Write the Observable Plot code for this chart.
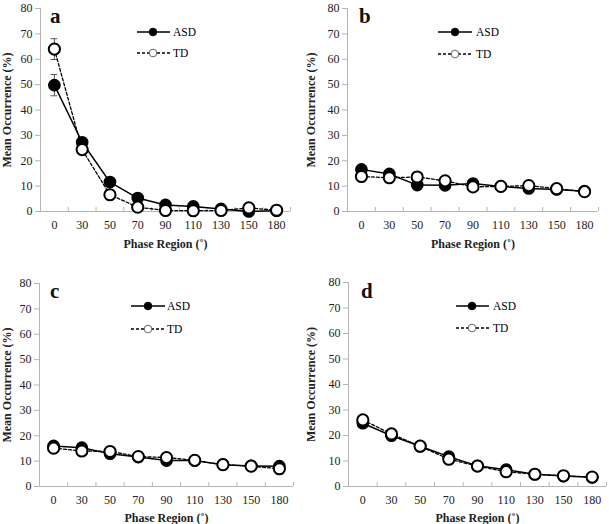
<!DOCTYPE html>
<html><head><meta charset="utf-8">
<script src="https://cdn.jsdelivr.net/npm/d3@7"></script>
<script src="https://cdn.jsdelivr.net/npm/@observablehq/plot@0.6"></script>
<style>
body{margin:0;background:#fff}
#root{position:relative;width:609px;height:524px;font-family:'Liberation Serif',serif;color:#111}
.panel{position:absolute;width:305px;height:262px}
.panel > svg{position:absolute;left:0;top:0;overflow:visible}
.panel svg text{font-family:'Liberation Serif',serif}
.letter{position:absolute;font-weight:bold;font-size:21px;line-height:1}
[aria-label$="axis label"]{font-weight:bold}
</style></head>
<body><div id="root"></div>
<script>
// ---- data ----
const phases = ["0","30","50","70","90","110","130","150","180"];
const panelLetters = ["a","b","c","d"];
const groups = ["ASD","TD"];
const asdA = [49.8, 27.3, 11.6, 5.3, 2.6, 2.0, 1.0, 0.0, 0.3];
const tdA  = [64.0, 24.4, 6.6, 1.7, 0.4, 0.3, 0.4, 1.4, 0.5];
const asdErrA = [4.2, 0, 0, 0, 0, 0, 0, 0, 0];
const tdErrA  = [4.1, 0, 0, 0, 0, 0, 0, 0, 0];
const asdB = [16.6, 14.8, 10.4, 10.3, 11.0, 9.9, 9.1, 8.7, 8.0];
const tdB  = [13.8, 13.3, 13.6, 12.1, 9.7, 9.9, 10.2, 9.0, 7.8];
const asdC = [16.0, 15.3, 12.9, 11.6, 10.2, 10.2, 8.6, 8.1, 8.0];
const tdC  = [15.1, 14.0, 13.8, 11.8, 11.4, 10.3, 8.6, 8.0, 7.0];
const asdD = [24.8, 19.9, 15.8, 11.7, 8.1, 6.6, 4.8, 4.1, 3.6];
const tdD  = [26.1, 20.6, 15.8, 10.7, 8.0, 5.8, 4.8, 4.2, 3.7];
const yTicks = [0, 10, 20, 30, 40, 50, 60, 70, 80];
const xTitle = "Phase Region (˚)";
const yTitle = "Mean Occurrence (%)";

const seriesSets = [
  [asdA, tdA, asdErrA, tdErrA],
  [asdB, tdB, null, null],
  [asdC, tdC, null, null],
  [asdD, tdD, null, null]
];

// ---- layout ----
const layout = [
  {left:0,   top:0,   mt:8,  mb:51, ml:40, mr:15, xo:36, letter:[50,6],  leg:{x1:137,x2:170,cx:153,tx:173,y:[32,53]}},
  {left:304, top:0,   mt:8,  mb:51, ml:43, mr:11, xo:36, letter:[55,6],  leg:{x1:134,x2:168,cx:151,tx:172,y:[32,54]}},
  {left:0,   top:262, mt:21, mb:38, ml:39, mr:12, xo:35, letter:[50,19], leg:{x1:131,x2:165,cx:148,tx:167,y:[44,67]}},
  {left:304, top:262, mt:20, mb:38, ml:44, mr:3,  xo:35, letter:[57,19], leg:{x1:152,x2:185,cx:168,tx:189,y:[44,66]}}
];

const root = document.getElementById("root");
const ns = "http://www.w3.org/2000/svg";
const serif = "Liberation Serif, serif";

seriesSets.forEach(([asd, td, asdErr, tdErr], p) => {
  const L = layout[p];
  const rows = (vals, errs) => vals.map((v, i) => ({i, v, e: errs ? errs[i] : 0}));
  const A = rows(asd, asdErr), T = rows(td, tdErr);
  const errRows = [...A, ...T].filter(d => d.e > 0);
  const idx = d3.range(phases.length);
  const bounds = d3.range(phases.length + 1).map(k => k - 0.5);

  const chart = Plot.plot({
    width: 305, height: 262,
    marginLeft: L.ml, marginRight: L.mr, marginTop: L.mt, marginBottom: L.mb,
    x: {domain: [-0.5, phases.length - 0.5]},
    y: {domain: [0, 80]},
    style: {fontFamily: serif, fontSize: "12px", color: "#111", background: "transparent", overflow: "visible"},
    marks: [
      Plot.ruleY([0], {stroke: "#b5b5b5"}),
      Plot.ruleX([-0.5], {stroke: "#b5b5b5"}),
      Plot.axisY(yTicks, {tickSize: 5, tickPadding: 3, stroke: "#b5b5b5", fill: "#222",
        label: yTitle, labelAnchor: "center", labelOffset: L.ml - 2, labelArrow: "none"}),
      Plot.axisX(bounds, {tickSize: -4, tickFormat: () => "", stroke: "#b5b5b5", label: null}),
      Plot.axisX(idx, {tickSize: 0, tickPadding: 9, tickFormat: i => phases[i], fill: "#222",
        label: xTitle, labelAnchor: "center", labelOffset: L.xo, labelArrow: "none"}),
      Plot.ruleX(errRows, {x: "i", y1: d => d.v - d.e, y2: d => d.v + d.e, stroke: "#555", strokeWidth: 1}),
      Plot.ruleY(errRows, {y: d => d.v + d.e, x1: d => d.i - 0.12, x2: d => d.i + 0.12, stroke: "#555", strokeWidth: 1}),
      Plot.ruleY(errRows, {y: d => d.v - d.e, x1: d => d.i - 0.12, x2: d => d.i + 0.12, stroke: "#555", strokeWidth: 1}),
      Plot.line(A, {x: "i", y: "v", stroke: "#000", strokeWidth: 1.5}),
      Plot.dot(A, {x: "i", y: "v", r: 5.6, fill: "#000", stroke: "#000", strokeWidth: 1.5}),
      Plot.line(T, {x: "i", y: "v", stroke: "#000", strokeWidth: 1.3, strokeDasharray: "3,2"}),
      Plot.dot(T, {x: "i", y: "v", r: 5.6, fill: "#fff", stroke: "#000", strokeWidth: 2})
    ]
  });

  const div = document.createElement("div");
  div.className = "panel";
  div.style.left = L.left + "px";
  div.style.top = L.top + "px";
  div.appendChild(chart);

  // legend
  const leg = document.createElementNS(ns, "svg");
  leg.setAttribute("width", 305); leg.setAttribute("height", 262);
  leg.style.position = "absolute"; leg.style.left = "0"; leg.style.top = "0";
  groups.forEach((g, k) => {
    const y = L.leg.y[k];
    const line = document.createElementNS(ns, "line");
    line.setAttribute("x1", L.leg.x1); line.setAttribute("x2", L.leg.x2);
    line.setAttribute("y1", y); line.setAttribute("y2", y);
    line.setAttribute("stroke", "#000"); line.setAttribute("stroke-width", k ? 1.3 : 1.5);
    if (k) line.setAttribute("stroke-dasharray", "3,2");
    leg.appendChild(line);
    const c = document.createElementNS(ns, "circle");
    c.setAttribute("cx", L.leg.cx); c.setAttribute("cy", y); c.setAttribute("r", 3.8);
    c.setAttribute("fill", k ? "#fff" : "#000"); c.setAttribute("stroke", k ? "#666" : "#000");
    leg.appendChild(c);
    const t = document.createElementNS(ns, "text");
    t.setAttribute("x", L.leg.tx); t.setAttribute("y", y); t.setAttribute("dy", "0.35em");
    t.setAttribute("font-size", "11.5");
    t.style.fontFamily = serif;
    t.textContent = g;
    leg.appendChild(t);
  });
  div.appendChild(leg);

  const letter = document.createElement("div");
  letter.className = "letter";
  letter.textContent = panelLetters[p];
  letter.style.left = L.letter[0] + "px";
  letter.style.top = L.letter[1] + "px";
  div.appendChild(letter);

  root.appendChild(div);
});
</script></body></html>
